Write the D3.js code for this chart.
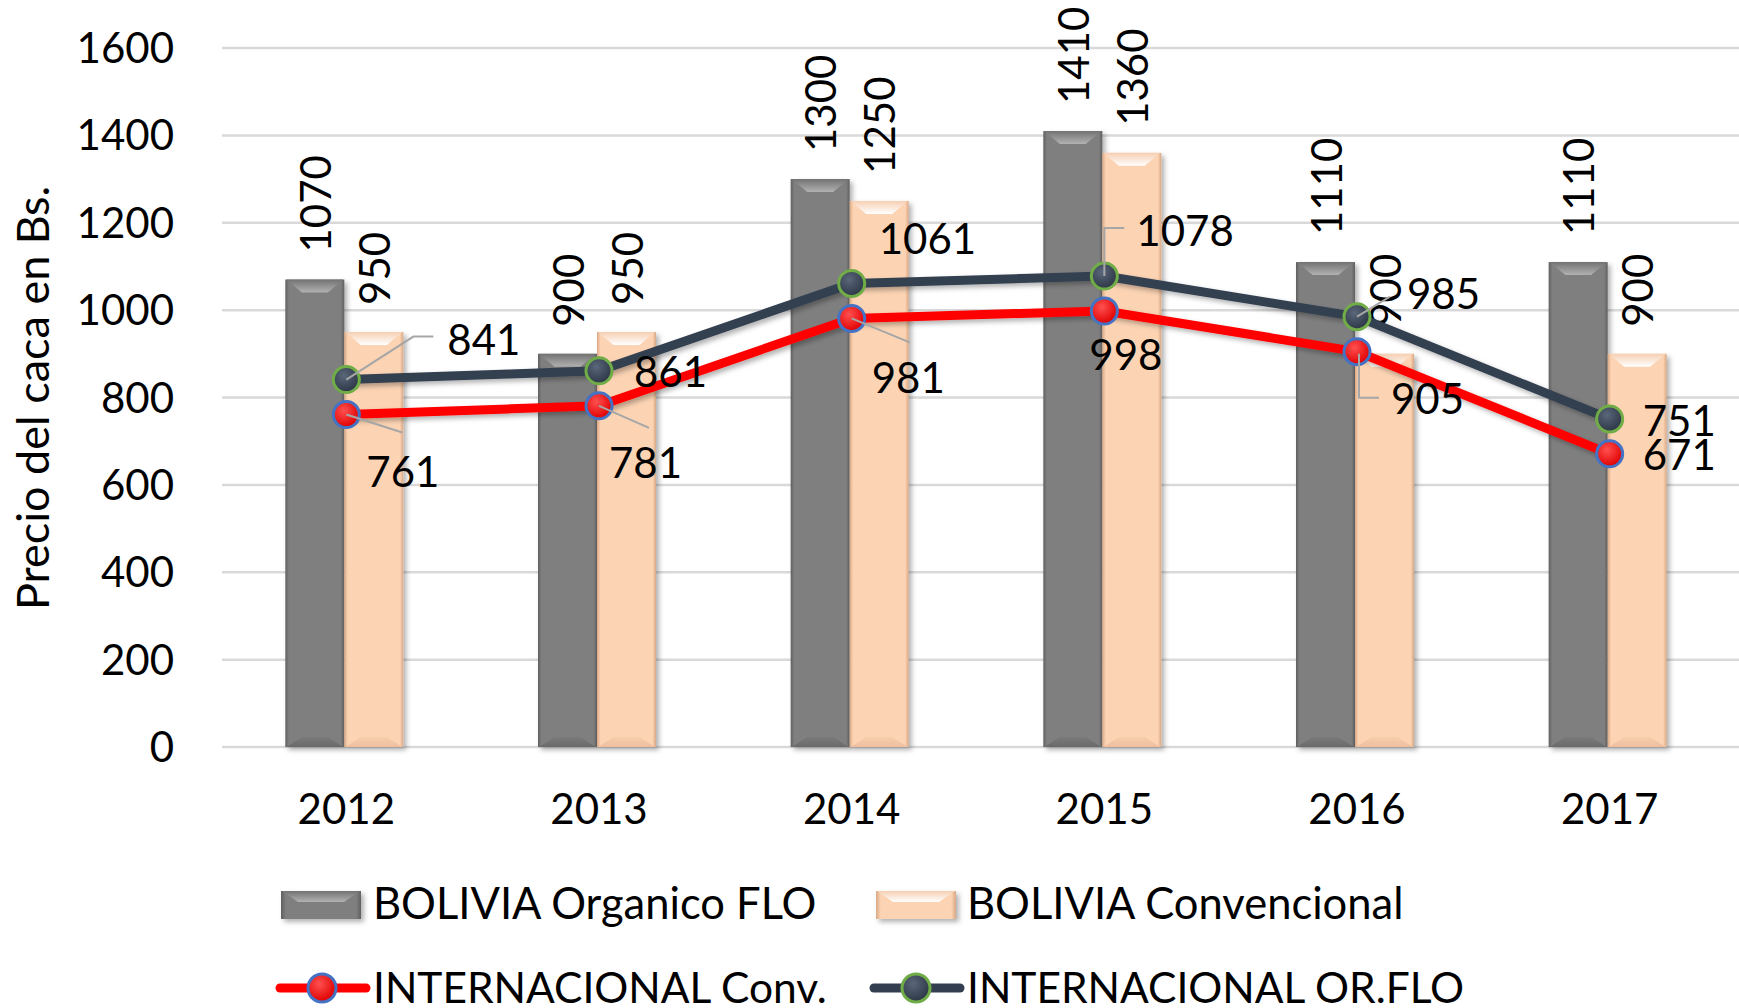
<!DOCTYPE html>
<html>
<head>
<meta charset="utf-8">
<script src="https://cdn.jsdelivr.net/npm/d3@7"></script>
<style>
  body { margin: 0; background: #fff; }
  svg { display: block; font-family: Lato, "Noto Sans", sans-serif; }
</style>
</head>
<body>
<svg width="1739" height="1008"></svg>
<script>
// data
const years = ['2012', '2013', '2014', '2015', '2016', '2017'];
const boliviaOrganico = [1070, 900, 1300, 1410, 1110, 1110];
const boliviaConv = [950, 950, 1250, 1360, 900, 900];
const intConv = [761, 781, 981, 998, 905, 671];
const intOrFlo = [841, 861, 1061, 1078, 985, 751];
const yTicks = [0, 200, 400, 600, 800, 1000, 1200, 1400, 1600];

// label placement (pixels, relative to the point) - tuned by eye
const orFloLabelPos = [[101, -40], [35, 1], [27, -45], [32, -45], [50, -23], [33, 2]];
const convLabelPos = [[20, 57], [10, 57], [20, 59], [-15, 44], [34, 47], [33, 1]];
const orFloLeaders = [[[0, 0], [67, -43], [87, -43]], null, null, [[0, 0], [0, -48], [20, -48]], [[0, 0], [33, -20]], null];
const convLeaders = [[[0, 0], [56, 18]], [[0, 0], [50, 22]], [[0, 0], [58, 24]], null, [[2, 2], [2, 46], [22, 46]], null];

const svg = d3.select('svg');

const x = d3.scaleBand().domain(years).range([220, 1736]).padding(0);
const y = d3.scaleLinear().domain([0, 1600]).range([747, 48]);
const barW = 59;

const defs = svg.append('defs');

function barGradient(id, edge, base) {
    const g = defs.append('linearGradient').attr('id', id).attr('x1', 0).attr('x2', 1).attr('y1', 0).attr('y2', 0);
    g.append('stop').attr('offset', '0%').attr('stop-color', edge);
    g.append('stop').attr('offset', '6%').attr('stop-color', base);
    g.append('stop').attr('offset', '94%').attr('stop-color', base);
    g.append('stop').attr('offset', '100%').attr('stop-color', edge);
}
barGradient('gDark', '#5f5f5f', '#7f7f7f');
barGradient('gPeach', '#d9a884', '#fcd4b4');

function bevelGradient(id, top, bottom) {
    const g = defs.append('linearGradient').attr('id', id).attr('x1', 0).attr('x2', 0).attr('y1', 0).attr('y2', 1);
    g.append('stop').attr('offset', '0%').attr('stop-color', top);
    g.append('stop').attr('offset', '100%').attr('stop-color', bottom);
}
bevelGradient('bDark', '#727272', '#b2b2b2');
bevelGradient('bPeach', '#f6cfb2', '#ffffff');
bevelGradient('bDarkBot', '#7a7a7a', '#6a6a6a');
bevelGradient('bPeachBot', '#f7cdad', '#eebf9d');

function markerGradient(id, light, base) {
    const g = defs.append('radialGradient').attr('id', id).attr('cx', '40%').attr('cy', '35%').attr('r', '65%');
    g.append('stop').attr('offset', '0%').attr('stop-color', light);
    g.append('stop').attr('offset', '100%').attr('stop-color', base);
}
markerGradient('mRed', '#ff5050', '#e00000');
markerGradient('mDark', '#5a677a', '#2c3646');

const shadow = defs.append('filter').attr('id', 'shadow').attr('x', '-20%').attr('y', '-20%').attr('width', '150%').attr('height', '150%');
shadow.append('feDropShadow').attr('dx', 3).attr('dy', 3).attr('stdDeviation', 2.5)
    .attr('flood-color', '#000').attr('flood-opacity', 0.3);

// gridlines
svg.append('g').selectAll('line')
    .data(yTicks)
    .enter().append('line')
        .attr('x1', 222).attr('x2', 1739)
        .attr('y1', d => y(d)).attr('y2', d => y(d))
        .attr('stroke', '#d9d9d9').attr('stroke-width', 2.5);

// y axis labels
svg.append('g').selectAll('text')
    .data(yTicks)
    .enter().append('text')
        .attr('x', 174).attr('y', d => y(d))
        .attr('dy', '0.36em')
        .attr('text-anchor', 'end')
        .attr('font-size', 42)
        .text(d => d);

svg.append('text')
    .attr('transform', 'translate(49,398) rotate(-90)')
    .attr('text-anchor', 'middle')
    .attr('font-size', 45)
    .text('Precio del caca en Bs.');

// x axis labels
svg.append('g').selectAll('text')
    .data(years)
    .enter().append('text')
        .attr('x', d => x(d) + x.bandwidth() / 2)
        .attr('y', 824)
        .attr('text-anchor', 'middle')
        .attr('font-size', 42)
        .text(d => d);

// a beveled block, used for bars and legend swatches
function bevelBlock(g, bx, by, w, h, fill, bevel, bevelBot, bh) {
    g.append('rect')
        .attr('x', bx).attr('y', by).attr('width', w).attr('height', h)
        .attr('fill', fill).attr('filter', 'url(#shadow)');
    const inset = Math.min(17, w * 0.28);
    g.append('polygon')
        .attr('points', [[bx + 1, by], [bx + w - 1, by], [bx + w - inset, by + bh], [bx + inset, by + bh]].join(' '))
        .attr('fill', bevel);
    if (bevelBot && h > 30) {
        g.append('polygon')
            .attr('points', [[bx + inset, by + h - 10], [bx + w - inset, by + h - 10], [bx + w - 1, by + h], [bx + 1, by + h]].join(' '))
            .attr('fill', bevelBot);
    }
}

function drawBars(values, offset, fill, bevel, bevelBot) {
    const g = svg.append('g');
    values.forEach((v, i) => {
        const bx = x(years[i]) + x.bandwidth() / 2 + offset;
        const by = y(v);
        bevelBlock(g, bx, by, barW, y(0) - by, fill, bevel, bevelBot, 13);
    });
}
drawBars(boliviaOrganico, -barW - 2, 'url(#gDark)', 'url(#bDark)', 'url(#bDarkBot)');
drawBars(boliviaConv, -2, 'url(#gPeach)', 'url(#bPeach)', 'url(#bPeachBot)');

// rotated bar value labels
function barLabels(values, offset) {
    svg.append('g').selectAll('text')
        .data(values)
        .enter().append('text')
            .attr('transform', (d, i) => {
                const cx = x(years[i]) + x.bandwidth() / 2 + offset + barW / 2;
                return `translate(${cx},${y(d) - 27}) rotate(-90)`;
            })
            .attr('dy', '0.36em')
            .attr('font-size', 42)
            .text(d => d);
}
barLabels(boliviaOrganico, -barW - 1);
barLabels(boliviaConv, -1);

// lines
const px = i => x(years[i]) + x.bandwidth() / 2;
const line = d3.line().x((d, i) => px(i)).y(d => y(d));

svg.append('path').datum(intOrFlo)
    .attr('d', line).attr('fill', 'none')
    .attr('stroke', '#333f50').attr('stroke-width', 9).attr('stroke-linejoin', 'round')
    .attr('filter', 'url(#shadow)');
svg.append('path').datum(intConv)
    .attr('d', line).attr('fill', 'none')
    .attr('stroke', '#ff0000').attr('stroke-width', 9).attr('stroke-linejoin', 'round')
    .attr('filter', 'url(#shadow)');

// leader lines
function leaders(values, list) {
    const g = svg.append('g');
    values.forEach((v, i) => {
        if (!list[i]) return;
        g.append('polyline')
            .attr('points', list[i].map(p => [px(i) + p[0], y(v) + p[1]]).join(' '))
            .attr('fill', 'none').attr('stroke', '#a6a6a6').attr('stroke-width', 2);
    });
}

// markers
function markers(values, fill, stroke) {
    svg.append('g').selectAll('circle')
        .data(values)
        .enter().append('circle')
            .attr('cx', (d, i) => px(i)).attr('cy', d => y(d))
            .attr('r', 13)
            .attr('fill', fill).attr('stroke', stroke).attr('stroke-width', 3);
}
markers(intOrFlo, 'url(#mDark)', '#70ad47');
markers(intConv, 'url(#mRed)', '#4472c4');
leaders(intOrFlo, orFloLeaders);
leaders(intConv, convLeaders);

function lineLabels(values, pos) {
    svg.append('g').selectAll('text')
        .data(values)
        .enter().append('text')
            .attr('x', (d, i) => px(i) + pos[i][0])
            .attr('y', (d, i) => y(d) + pos[i][1])
            .attr('dy', '0.36em')
            .attr('font-size', 42)
            .text(d => d);
}
lineLabels(intOrFlo, orFloLabelPos);
lineLabels(intConv, convLabelPos);

// legend
const legend = svg.append('g').attr('font-size', 43.5);
function legendLine(lx, ly, color, fill, stroke) {
    legend.append('line').attr('x1', lx).attr('x2', lx + 86).attr('y1', ly).attr('y2', ly)
        .attr('stroke', color).attr('stroke-width', 9).attr('stroke-linecap', 'round');
    legend.append('circle').attr('cx', lx + 42).attr('cy', ly).attr('r', 14)
        .attr('fill', fill).attr('stroke', stroke).attr('stroke-width', 3);
}
bevelBlock(legend, 281, 891, 80, 28, 'url(#gDark)', 'url(#bDark)', null, 11);
legend.append('text').attr('x', 373).attr('y', 919).text('BOLIVIA Organico FLO');
bevelBlock(legend, 876, 891, 80, 28, 'url(#gPeach)', 'url(#bPeach)', null, 11);
legend.append('text').attr('x', 967).attr('y', 919).text('BOLIVIA Convencional');
legendLine(280, 988, '#ff0000', 'url(#mRed)', '#4472c4');
legend.append('text').attr('x', 373).attr('y', 1003).attr('font-size', 42.5).text('INTERNACIONAL Conv.');
legendLine(874, 988, '#333f50', 'url(#mDark)', '#70ad47');
legend.append('text').attr('x', 967).attr('y', 1003).attr('font-size', 42.5).text('INTERNACIONAL OR.FLO');
</script>
</body>
</html>
